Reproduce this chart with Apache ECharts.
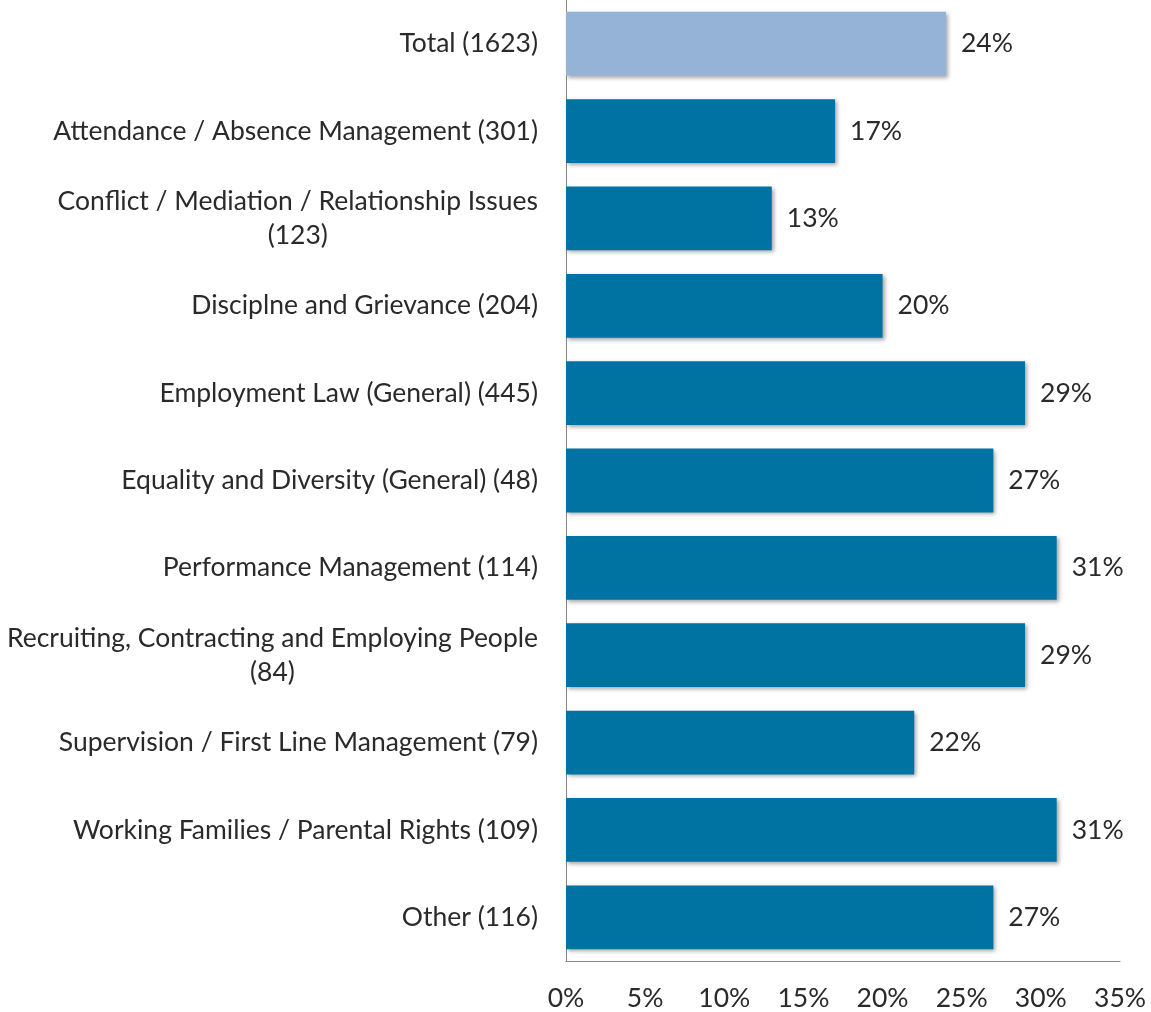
<!DOCTYPE html>
<html>
<head>
<meta charset="utf-8">
<script src="https://cdn.jsdelivr.net/npm/echarts@6/dist/echarts.min.js"></script>
<style>
html,body{margin:0;padding:0;background:#fff;}
#chart{width:1151px;height:1012px;}
</style>
</head>
<body>
<div id="chart"></div>
<script>
const categories = [
  "Total (1623)",
  "Attendance / Absence Management (301)",
  "Conflict / Mediation / Relationship Issues\n(123)",
  "Disciplne and Grievance (204)",
  "Employment Law (General) (445)",
  "Equality and Diversity (General) (48)",
  "Performance Management (114)",
  "Recruiting, Contracting and Employing People\n(84)",
  "Supervision / First Line Management (79)",
  "Working Families / Parental Rights (109)",
  "Other (116)"
];
const values = [24, 17, 13, 20, 29, 27, 31, 29, 22, 31, 27];
const highlightIndex = 0;
const xTicks = [0, 5, 10, 15, 20, 25, 30, 35];

const FONT = 'Lato';
const FS = 26.5;
const TXT = '#2a2a2a';

const chart = echarts.init(document.getElementById('chart'), null, {renderer: 'canvas'});
chart.setOption({
  backgroundColor: '#ffffff',
  animation: false,
  grid: {left: 566, right: 31, top: 0, bottom: 50, containLabel: false},
  xAxis: {
    type: 'value',
    min: xTicks[0],
    max: xTicks[xTicks.length - 1],
    interval: 5,
    axisLine: {show: true, lineStyle: {color: '#868686', width: 1}},
    axisTick: {show: false},
    splitLine: {show: false},
    axisLabel: {
      margin: 24,
      color: TXT,
      fontFamily: FONT,
      fontSize: FS,
      formatter: v => v + '%'
    }
  },
  yAxis: {
    type: 'category',
    inverse: true,
    data: categories,
    axisLine: {show: true, lineStyle: {color: '#868686', width: 1}},
    axisTick: {show: false},
    axisLabel: {
      margin: 28,
      color: TXT,
      fontFamily: FONT,
      fontSize: FS,
      lineHeight: 34,
      formatter: function (v) {
        if (v.indexOf('\n') >= 0) {
          return v.split('\n').map(s => '{c|' + s + '}').join('\n');
        }
        return v;
      },
      rich: {
        c: {align: 'center', color: TXT, fontFamily: FONT, fontSize: FS, lineHeight: 34}
      }
    }
  },
  series: [{
    type: 'bar',
    data: values.map((v, i) => ({
      value: v,
      itemStyle: {color: i === highlightIndex ? '#95B3D7' : '#0073A3'}
    })),
    barCategoryGap: '27%',
    itemStyle: {
      shadowColor: 'rgba(0,0,0,0.35)',
      shadowBlur: 4,
      shadowOffsetX: 2,
      shadowOffsetY: 2
    },
    label: {
      show: true,
      position: 'right',
      distance: 15,
      color: TXT,
      fontFamily: FONT,
      fontSize: FS,
      formatter: p => p.value + '%'
    }
  }]
});
</script>
</body>
</html>
